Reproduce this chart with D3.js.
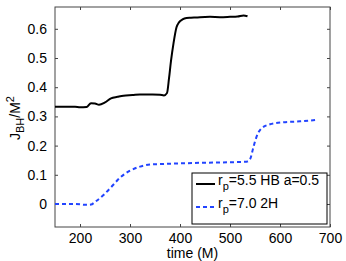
<!DOCTYPE html>
<html>
<head>
<meta charset="utf-8">
<script src="https://cdn.jsdelivr.net/npm/d3@7"></script>
<style>
  body { margin: 0; background: #fff; }
  text { font-family: "Liberation Sans", Arial, sans-serif; }
</style>
</head>
<body>
<svg width="346" height="261"></svg>
<script>
// black: r_p=5.5 HB a=0.5
var timeHB = [150, 190, 200, 213, 222, 230, 238, 250, 262, 275, 287, 305, 320, 345, 360, 368, 374, 378, 382, 387, 393, 398, 405, 413, 422, 440, 460, 480, 500, 515, 527, 535];
var jHB = [0.333, 0.333, 0.331, 0.332, 0.345, 0.344, 0.340, 0.348, 0.362, 0.367, 0.371, 0.373, 0.375, 0.375, 0.374, 0.372, 0.38, 0.43, 0.49, 0.55, 0.605, 0.622, 0.632, 0.637, 0.638, 0.640, 0.641, 0.640, 0.641, 0.642, 0.646, 0.643];
// blue: r_p=7.0 2H
var time2H = [150, 190, 213, 222, 230, 247, 263, 280, 300, 320, 340, 380, 440, 500, 533, 540, 547, 553, 563, 580, 607, 640, 672];
var j2H = [0, 0, -0.003, -0.002, 0.007, 0.031, 0.059, 0.09, 0.114, 0.128, 0.135, 0.138, 0.141, 0.143, 0.145, 0.153, 0.196, 0.23, 0.259, 0.273, 0.28, 0.283, 0.288];

var xTicks = [200, 300, 400, 500, 600, 700];
var yTicks = [0, 0.1, 0.2, 0.3, 0.4, 0.5, 0.6];

var svg = d3.select("svg");
var pLeft = 55, pRight = 330, pTop = 7, pBottom = 227;

var x = d3.scaleLinear().domain([150, 700]).range([pLeft, pRight]);
var y = d3.scaleLinear().domain([-0.0788, 0.6747]).range([pBottom, pTop]);

var axisColor = "#444";

// box
svg.append("rect")
  .attr("x", pLeft).attr("y", pTop)
  .attr("width", pRight - pLeft).attr("height", pBottom - pTop)
  .attr("fill", "none").attr("stroke", axisColor).attr("stroke-width", 1);

// axes with inside ticks
var gx = svg.append("g").attr("transform", "translate(0," + pBottom + ")")
  .call(d3.axisBottom(x).tickValues(xTicks).tickSizeInner(-3).tickSizeOuter(0).tickPadding(6).tickFormat(d3.format("d")));
var gxt = svg.append("g").attr("transform", "translate(0," + pTop + ")")
  .call(d3.axisTop(x).tickValues(xTicks).tickSizeInner(-3).tickSizeOuter(0).tickFormat(""));
var gy = svg.append("g").attr("transform", "translate(" + pLeft + ",0)")
  .call(d3.axisLeft(y).tickValues(yTicks).tickSizeInner(-3).tickSizeOuter(0).tickPadding(8)
    .tickFormat(function(d) { return d === 0 ? "0" : d3.format(".1f")(d); }));
var gyr = svg.append("g").attr("transform", "translate(" + pRight + ",0)")
  .call(d3.axisRight(y).tickValues(yTicks).tickSizeInner(-3).tickSizeOuter(0).tickFormat(""));

[gx, gxt, gy, gyr].forEach(function(g) {
  g.select(".domain").remove();
  g.selectAll("line").attr("stroke", axisColor);
  g.selectAll("text").attr("font-size", 14).attr("fill", "#000")
    .style("font-family", "Liberation Sans, Arial, sans-serif");
});

// lines
var lineHB = d3.line()
  .x(function(d, i) { return x(timeHB[i]); })
  .y(function(d) { return y(d); })
  .curve(d3.curveMonotoneX);
var line2H = d3.line()
  .x(function(d, i) { return x(time2H[i]); })
  .y(function(d) { return y(d); })
  .curve(d3.curveMonotoneX);

svg.append("path").datum(j2H)
  .attr("d", line2H)
  .attr("fill", "none").attr("stroke", "#2244ff").attr("stroke-width", 2)
  .attr("stroke-dasharray", "4,3");

svg.append("path").datum(jHB)
  .attr("d", lineHB)
  .attr("fill", "none").attr("stroke", "#000").attr("stroke-width", 2);

// axis labels
svg.append("text")
  .attr("x", (pLeft + pRight) / 2).attr("y", 258)
  .attr("text-anchor", "middle").attr("font-size", 14)
  .text("time (M)");

var yl = svg.append("text")
  .attr("transform", "translate(20,118) rotate(-90)")
  .attr("text-anchor", "middle").attr("font-size", 14);
yl.append("tspan").text("J");
yl.append("tspan").attr("dy", 4).attr("font-size", 11).text("BH");
yl.append("tspan").attr("dy", -4).text("/M");
yl.append("tspan").attr("dy", -6).attr("font-size", 11).text("2");

// legend
var leg = svg.append("g");
leg.append("rect")
  .attr("x", 192).attr("y", 173).attr("width", 135).attr("height", 51)
  .attr("fill", "#fff").attr("stroke", "#000").attr("stroke-width", 1);

var legItems = [
  { label: "=5.5 HB a=0.5", color: "#000", dash: null, yy: 184 },
  { label: "=7.0 2H", color: "#2244ff", dash: "4,3", yy: 207 }
];
legItems.forEach(function(it) {
  leg.append("line")
    .attr("x1", 196).attr("x2", 215).attr("y1", it.yy).attr("y2", it.yy)
    .attr("stroke", it.color).attr("stroke-width", 2)
    .attr("stroke-dasharray", it.dash);
  var t = leg.append("text").attr("x", 218).attr("y", it.yy + 1).attr("font-size", 14);
  t.append("tspan").text("r");
  t.append("tspan").attr("dy", 5).attr("font-size", 11).text("p");
  t.append("tspan").attr("dy", -5).text(it.label);
});
</script>
</body>
</html>
